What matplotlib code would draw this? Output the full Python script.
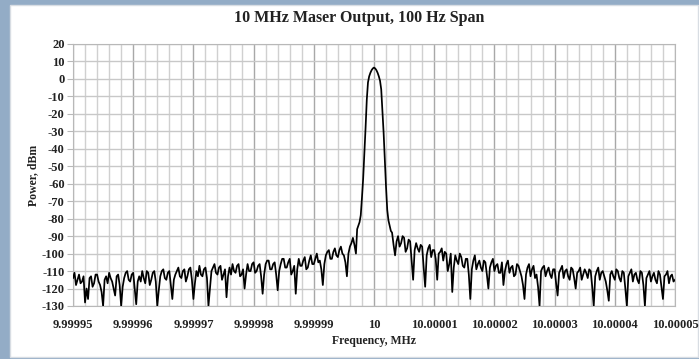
import matplotlib
matplotlib.use("Agg")
import matplotlib.pyplot as plt
from matplotlib.patches import Rectangle
from matplotlib.ticker import MultipleLocator
import numpy as np

# power readings in dBm, 0.25 Hz steps from -50 Hz to -3 Hz off the carrier
left_power = [-114, -111, -118, -115, -112, -117, -116, -113, -128, -120,
              -126, -114, -113, -119, -117, -112, -112, -116, -118, -122,
              -130, -115, -113, -117, -111, -114, -116, -120, -124, -113,
              -112, -118, -130, -119, -114, -111, -110, -115, -116, -112,
              -111, -120, -129, -116, -113, -116, -110, -114, -117, -110,
              -111, -118, -115, -111, -110, -116, -130, -121, -113, -110,
              -109, -114, -115, -111, -110, -118, -126, -115, -112, -110,
              -108, -113, -114, -110, -109, -116, -113, -109, -108, -115,
              -126, -117, -110, -113, -107, -112, -113, -109, -108, -114,
              -130, -120, -110, -108, -106, -111, -112, -108, -107, -115,
              -112, -109, -125, -113, -108, -112, -106, -110, -111, -107,
              -106, -113, -112, -109, -120, -112, -106, -110, -110, -106,
              -105, -111, -110, -107, -106, -113, -123, -112, -106, -104,
              -104, -109, -109, -106, -105, -112, -121, -110, -106, -103,
              -103, -108, -108, -105, -103, -112, -110, -107, -123, -109,
              -103, -107, -107, -104, -102, -109, -108, -104, -101, -106,
              -106, -103, -100, -105, -104, -109, -118, -106, -101, -99,
              -98, -103, -103, -99, -97, -101, -102, -98, -96, -100,
              -101, -105, -113, -100, -96, -94, -91, -95, -100]
# carrier peak, 0.2 Hz steps from -2.8 Hz to +2.8 Hz
peak_power = [-86, -84, -82, -78, -68, -57, -43, -28, -12, -2, 1.5, 3.5, 5, 6,
              6.5, 6, 5, 3.5, 1.5, -1, -6, -18, -31, -47, -62, -75, -81, -84, -87]
# 0.25 Hz steps from +3 Hz to +50 Hz
right_power = [-88, -95, -101, -93, -90, -96, -94, -90, -91, -99,
               -97, -92, -93, -104, -115, -98, -94, -97, -99, -95,
               -96, -108, -119, -101, -97, -95, -102, -98, -98, -103,
               -115, -100, -99, -97, -104, -99, -100, -110, -106, -100,
               -122, -108, -101, -104, -106, -100, -102, -107, -108, -103,
               -103, -112, -126, -109, -104, -101, -109, -106, -104, -108,
               -110, -104, -105, -112, -120, -108, -105, -103, -110, -107,
               -106, -111, -111, -105, -118, -110, -106, -104, -111, -108,
               -107, -113, -112, -106, -107, -110, -113, -118, -126, -112,
               -108, -106, -113, -109, -107, -114, -112, -119, -130, -110,
               -108, -107, -113, -110, -108, -112, -114, -109, -109, -117,
               -124, -111, -109, -107, -114, -110, -109, -113, -115, -108,
               -109, -114, -120, -111, -110, -108, -115, -112, -109, -111,
               -114, -109, -110, -119, -130, -113, -110, -108, -115, -111,
               -110, -113, -116, -121, -127, -112, -110, -113, -115, -109,
               -110, -114, -116, -110, -111, -120, -130, -113, -111, -109,
               -116, -112, -111, -115, -117, -110, -111, -118, -130, -114,
               -112, -110, -116, -113, -111, -115, -117, -110, -112, -119,
               -126, -113, -112, -110, -117, -113, -112, -116, -115]

left_hz = np.arange(-50, -2.9, 0.25)
peak_hz = np.arange(-2.8, 2.81, 0.2)
right_hz = np.arange(3, 50.1, 0.25)

offset_hz = np.concatenate([left_hz, peak_hz, right_hz])
power = np.concatenate([left_power, peak_power, right_power])
freq_mhz = 10 + offset_hz * 1e-6

xtick_labels = ["9.99995", "9.99996", "9.99997", "9.99998", "9.99999", "10",
                "10.00001", "10.00002", "10.00003", "10.00004", "10.00005"]
xtick_pos = [float(s) for s in xtick_labels]
yticks = list(range(-130, 21, 10))

plt.rcParams["font.family"] = ["Liberation Serif", "DejaVu Serif"]
plt.rcParams["font.weight"] = "bold"
plt.rcParams["axes.unicode_minus"] = False

fig = plt.figure(figsize=(6.99, 3.59), dpi=100, facecolor="#93acc6")
panel = Rectangle((10 / 699, 2 / 359), 688 / 699, 352 / 359,
                  transform=fig.transFigure, facecolor="white",
                  edgecolor="#d8dde3", lw=1, zorder=-10)
fig.add_artist(panel)

ax = fig.add_axes([73 / 699, 1 - 306 / 359, 602 / 699, 262 / 359])
ax.set_zorder(1)
ax.set_facecolor("white")
ax.plot(freq_mhz, power, color="black", lw=1.25, zorder=3)

ax.set_xlim(9.99995, 10.00005)
ax.set_ylim(-130, 20)
ax.set_xticks(xtick_pos)
ax.set_xticklabels(xtick_labels)
ax.xaxis.set_minor_locator(MultipleLocator(2e-6))
ax.set_yticks(yticks)

ax.grid(True, which="major", axis="x", color="#a8a8a8", lw=1.0)
ax.grid(True, which="minor", axis="x", color="#d0d0d0", lw=1.0)
ax.grid(True, which="major", axis="y", color="#c8c8c8", lw=1.0)
ax.set_axisbelow(True)

for s in ax.spines.values():
    s.set_color("#b8b8b8")
ax.tick_params(axis="both", which="both", labelsize=9, colors="#b8b8b8",
               labelcolor="#222222")
ax.tick_params(axis="x", which="both", length=0, pad=9)
ax.tick_params(axis="y", length=4, pad=2)

fig.text(359 / 699, 1 - 18 / 359, "10 MHz Maser Output, 100 Hz Span",
         fontsize=11.5, fontweight="bold", color="#222222",
         ha="center", va="center")
ax.set_xlabel("Frequency, MHz", fontsize=8.5, fontweight="bold", color="#222222",
              labelpad=3)
ax.set_ylabel("Power, dBm", fontsize=8.5, fontweight="bold", color="#222222",
              labelpad=2)

fig.savefig("out.png", dpi=100, facecolor=fig.get_facecolor())
